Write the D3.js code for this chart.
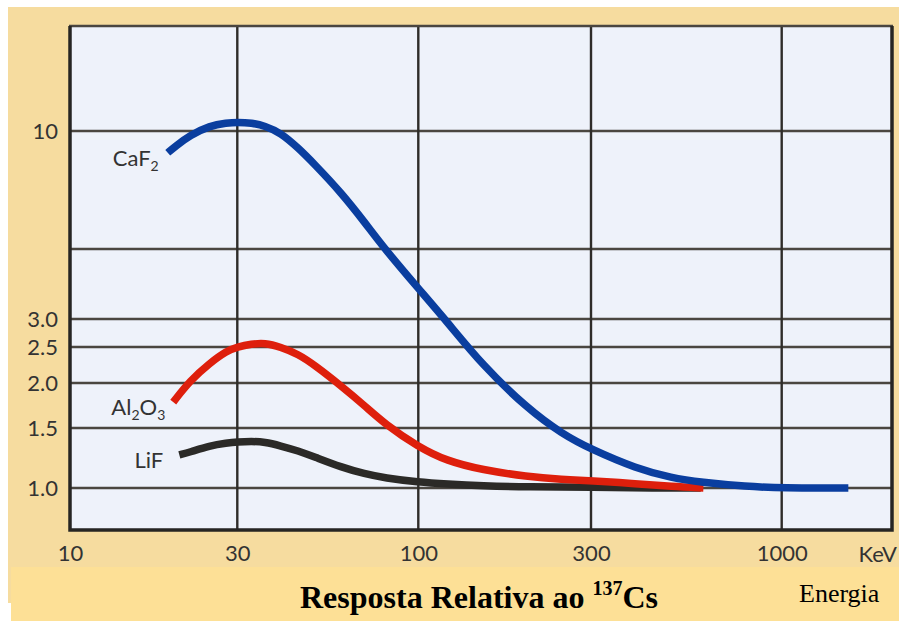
<!DOCTYPE html>
<html>
<head>
<meta charset="utf-8">
<script src="https://cdn.jsdelivr.net/npm/d3@7/dist/d3.min.js"></script>
<style>
  html, body { margin: 0; padding: 0; background: #ffffff; }
  svg { display: block; }
</style>
</head>
<body>
<svg id="chart" width="899" height="621"></svg>
<script>
// Energy (keV) and response relative to 137Cs for each dosimeter material
const energyCaF2   = [19, 20, 22, 25, 28, 30, 33, 36, 40, 45, 50, 60, 70, 80, 100, 120, 150, 200, 250, 300, 400, 500, 600, 800, 1000, 1520];
const responseCaF2 = [8.8, 9.15, 9.75, 10.35, 10.55, 10.6, 10.55, 10.35, 9.9, 9.05, 8.25, 6.95, 5.85, 5.0, 3.75, 2.95, 2.24, 1.70, 1.44, 1.30, 1.14, 1.07, 1.04, 1.01, 1.0, 1.0];

const energyAl2O3   = [19.7, 22, 25, 28, 30, 33, 36, 40, 45, 50, 60, 70, 80, 100, 120, 150, 200, 250, 300, 400, 500, 610];
const responseAl2O3 = [1.77, 2.03, 2.26, 2.44, 2.50, 2.55, 2.57, 2.50, 2.39, 2.24, 1.96, 1.73, 1.54, 1.32, 1.20, 1.13, 1.08, 1.06, 1.05, 1.03, 1.01, 1.0];

const energyLiF   = [20.5, 22, 25, 28, 30, 33, 36, 40, 45, 50, 60, 70, 80, 100, 120, 150, 200, 300, 450, 600];
const responseLiF = [1.25, 1.275, 1.33, 1.355, 1.365, 1.37, 1.365, 1.33, 1.285, 1.235, 1.15, 1.10, 1.07, 1.04, 1.027, 1.015, 1.007, 1.005, 1.0, 1.0];

const xTicks = [10, 30, 100, 300, 1000];
const xTickLabels = ["10", "30", "100", "300", "1000"];
const yTicks = [1, 1.5, 2, 2.5, 3, 10];
const yTickLabels = ["1.0", "1.5", "2.0", "2.5", "3.0", "10"];
const yGrid = [1, 1.5, 2, 2.5, 3, 5, 10];

const svg = d3.select("#chart");

// Frame and bands
svg.append("rect").attr("x", 8).attr("y", 7).attr("width", 891).attr("height", 596).attr("fill", "#f6dc9f");
svg.append("rect").attr("x", 11).attr("y", 567).attr("width", 888).attr("height", 54).attr("fill", "#fde096");

const plotLeft = 70, plotRight = 892, plotTop = 26, plotBottom = 530;

// Hand-drawn log axes: piecewise log scales through the printed grid
const x = d3.scaleLog()
  .domain([10, 30, 100, 300, 1000, 2000])
  .range([plotLeft, 237.3, 418.3, 591, 781.7, plotRight]);
const y = d3.scaleLog()
  .domain([0.75, 1, 1.5, 2, 2.5, 3, 5, 10, 20])
  .range([plotBottom, 488, 428, 383, 347, 319, 249, 131, plotTop]);

svg.append("rect")
  .attr("x", plotLeft).attr("y", plotTop)
  .attr("width", plotRight - plotLeft).attr("height", plotBottom - plotTop)
  .attr("fill", "#eef2fa");

// Grid
svg.append("g").selectAll("line").data(yGrid).join("line")
  .attr("x1", plotLeft).attr("x2", plotRight)
  .attr("y1", d => y(d)).attr("y2", d => y(d))
  .attr("stroke", "#4a4640").attr("stroke-width", 2.4);
svg.append("g").selectAll("line").data(xTicks.slice(1)).join("line")
  .attr("x1", d => x(d)).attr("x2", d => x(d))
  .attr("y1", plotTop).attr("y2", plotBottom)
  .attr("stroke", "#2e2c29").attr("stroke-width", 2.4);

// Plot border
svg.append("line").attr("x1", plotLeft - 1).attr("x2", plotRight + 1).attr("y1", plotTop).attr("y2", plotTop)
  .attr("stroke", "#4a4640").attr("stroke-width", 2.5);
svg.append("path")
  .attr("d", `M${plotLeft},${plotTop} V${plotBottom} H${plotRight} V${plotTop}`)
  .attr("fill", "none").attr("stroke", "#262523").attr("stroke-width", 3.5);

// Axes labels
const axisFont = "Lato, 'DejaVu Sans', sans-serif";
const xAxis = svg.append("g")
  .attr("transform", `translate(0,${plotBottom})`)
  .call(d3.axisBottom(x).tickValues(xTicks).tickSize(0).tickPadding(15)
    .tickFormat((d, i) => xTickLabels[i]));
xAxis.select(".domain").remove();
xAxis.selectAll("text").attr("font-family", axisFont).attr("font-size", 22).attr("fill", "#333");

const yAxis = svg.append("g")
  .attr("transform", `translate(${plotLeft},0)`)
  .call(d3.axisLeft(y).tickValues(yTicks).tickSize(0).tickPadding(12)
    .tickFormat((d, i) => yTickLabels[i]));
yAxis.select(".domain").remove();
yAxis.selectAll("text").attr("font-family", axisFont).attr("font-size", 22).attr("fill", "#333");

svg.append("text")
  .attr("x", 897).attr("y", 562)
  .attr("text-anchor", "end")
  .attr("font-family", axisFont).attr("font-size", 22).attr("fill", "#333")
  .text("KeV");

// Response curves
const series = [
  { name: "LiF", energy: energyLiF, response: responseLiF, color: "#2b2a27", label: [["LiF", 0]], dx: -16 },
  { name: "Al2O3", energy: energyAl2O3, response: responseAl2O3, color: "#de1f0c", label: [["Al", 0], ["2", 1], ["O", 0], ["3", 1]], dx: -8 },
  { name: "CaF2", energy: energyCaF2, response: responseCaF2, color: "#0a3e9f", label: [["CaF", 0], ["2", 1]], dx: -9 }
];

const line = d3.line()
  .x(d => x(d[0]))
  .y(d => y(d[1]))
  .curve(d3.curveBasis);

series.forEach(s => {
  const pts = s.energy.map((e, i) => [e, s.response[i]]);
  svg.append("path")
    .attr("d", line(pts))
    .attr("fill", "none")
    .attr("stroke", s.color)
    .attr("stroke-width", 7.5)
    .attr("stroke-linecap", "butt");

  const t = svg.append("text")
    .attr("x", x(pts[0][0]) + s.dx)
    .attr("y", y(pts[0][1]) + 13)
    .attr("text-anchor", "end")
    .attr("font-family", axisFont).attr("font-size", 22).attr("fill", "#333");
  let shifted = false;
  s.label.forEach(([txt, sub]) => {
    const ts = t.append("tspan").text(txt);
    if (sub && !shifted) { ts.attr("font-size", 14).attr("dy", 5); shifted = true; }
    else if (!sub && shifted) { ts.attr("dy", -5); shifted = false; }
    else if (sub) ts.attr("font-size", 14);
  });
});

// Caption
const cap = svg.append("text")
  .attr("x", 300).attr("y", 608)
  .attr("font-family", "'Liberation Serif', 'Times New Roman', serif")
  .attr("font-weight", "bold").attr("font-size", 32).attr("fill", "#000");
cap.append("tspan").text("Resposta Relativa ao ");
cap.append("tspan").attr("font-size", 20).attr("dy", -13).text("137");
cap.append("tspan").attr("dy", 13).text("Cs");

svg.append("text")
  .attr("x", 799).attr("y", 602)
  .attr("font-family", "'Liberation Serif', 'Times New Roman', serif")
  .attr("font-size", 26).attr("fill", "#000")
  .text("Energia");
</script>
</body>
</html>
